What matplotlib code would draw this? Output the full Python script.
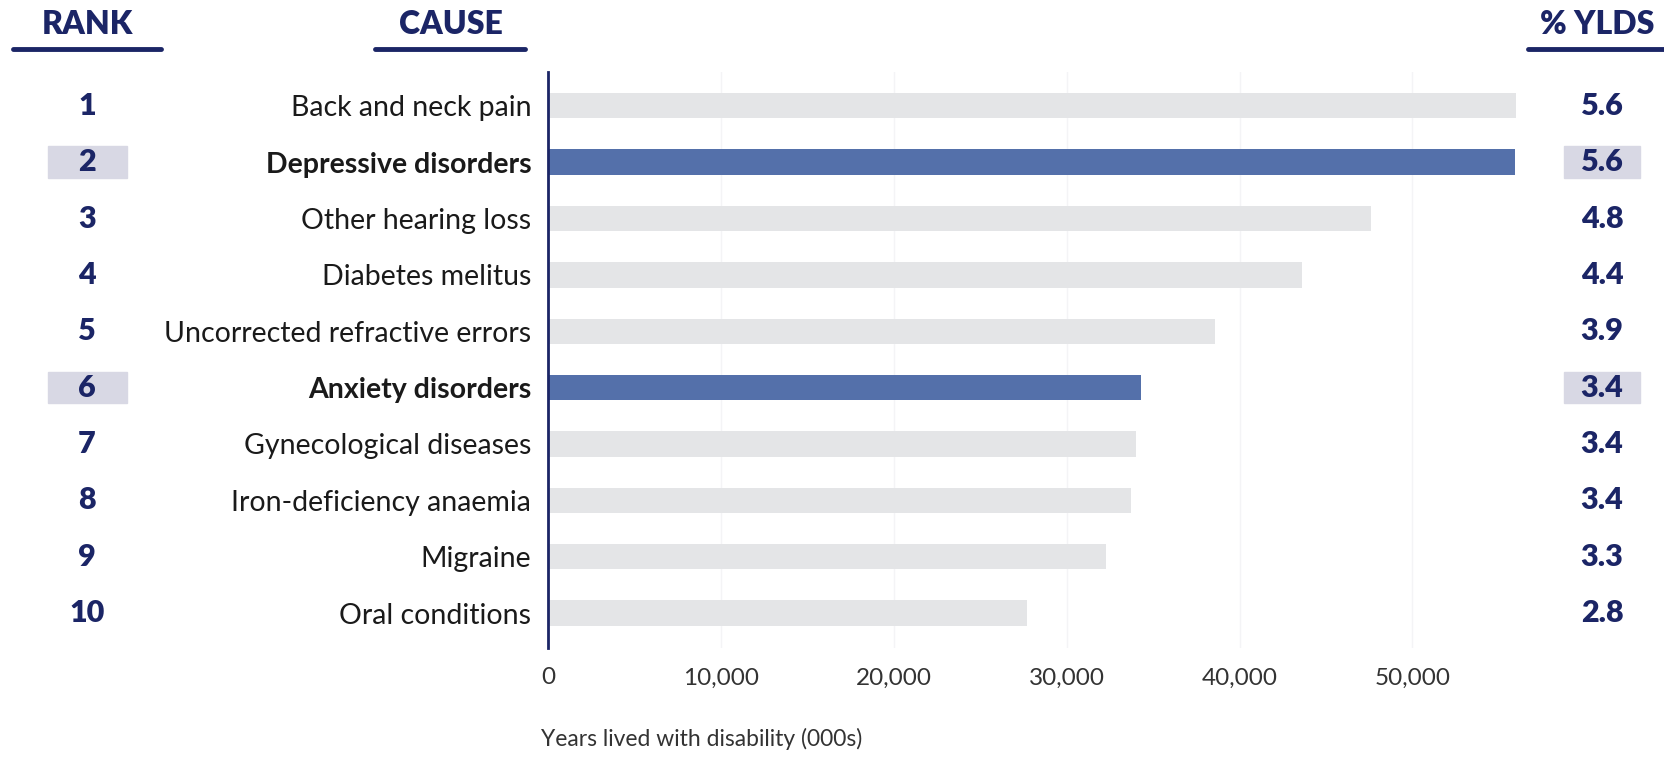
import matplotlib.pyplot as plt
import matplotlib.transforms as mtransforms
from matplotlib.patches import Rectangle

plt.rcParams["font.family"] = ["Lato", "DejaVu Sans"]

causes = [
    "Back and neck pain",
    "Depressive disorders",
    "Other hearing loss",
    "Diabetes melitus",
    "Uncorrected refractive errors",
    "Anxiety disorders",
    "Gynecological diseases",
    "Iron-deficiency anaemia",
    "Migraine",
    "Oral conditions",
]
ranks = [1, 2, 3, 4, 5, 6, 7, 8, 9, 10]
ylds = [56000, 55900, 47600, 43600, 38600, 34300, 34000, 33700, 32300, 27700]
pct_ylds = ["5.6", "5.6", "4.8", "4.4", "3.9", "3.4", "3.4", "3.4", "3.3", "2.8"]
highlight = ["Depressive disorders", "Anxiety disorders"]
xticks = [0, 10000, 20000, 30000, 40000, 50000]

NAVY = "#1b2566"
BLUE = "#5470aa"
GREY = "#e4e5e7"
BOX = "#d8d8e4"

W, H = 1664, 757
fig = plt.figure(figsize=(W / 100, H / 100), dpi=100)
ax = fig.add_axes([548 / W, 1 - 648 / H, (1556 - 548) / W, (648 - 72) / H])

y = list(range(len(causes)))
colors = [BLUE if c in highlight else GREY for c in causes]
ax.barh(y, ylds, height=0.45, color=colors, zorder=2)

ax.set_xlim(0, 58300)
ax.set_ylim(len(causes) - 0.38, -0.6)
ax.set_yticks(y)
ax.set_yticklabels(causes)
for lbl, c in zip(ax.get_yticklabels(), causes):
    lbl.set_fontweight("bold" if c in highlight else "normal")
ax.tick_params(axis="y", length=0, pad=12, labelsize=20.5, labelcolor="#1a1a1a")
ax.set_xticks(xticks)
ax.set_xticklabels([f"{v:,}" for v in xticks])
ax.tick_params(axis="x", length=0, pad=14, labelsize=17.5, labelcolor="#333333")
ax.grid(axis="x", color="#f4f4f6", lw=1, zorder=0)
for s in ["top", "right", "bottom"]:
    ax.spines[s].set_visible(False)
ax.spines["left"].set_color(NAVY)
ax.spines["left"].set_linewidth(2)
ax.set_xlabel("Years lived with disability (000s)", fontsize=16.5, color="#333333")
ax.xaxis.set_label_coords(-7 / 1008, -80 / 576, transform=ax.transAxes)
ax.xaxis.label.set_horizontalalignment("left")

# side columns: x in figure pixels, y in data
tr = mtransforms.blended_transform_factory(fig.transFigure, ax.transData)
rank_x = 87 / W
pct_x = 1602 / W
for i, (r, p, c) in enumerate(zip(ranks, pct_ylds, causes)):
    if c in highlight:
        fig.patches.append(Rectangle((48 / W, i - 0.28), 79 / W, 0.56, transform=tr,
                                     color=BOX, zorder=0))
        fig.patches.append(Rectangle((1564 / W, i - 0.28), 76 / W, 0.56, transform=tr,
                                     color=BOX, zorder=0))
    fig.text(rank_x, i, str(r), transform=tr, ha="center", va="center",
             fontsize=22, fontweight="heavy", color=NAVY)
    fig.text(pct_x, i, p, transform=tr, ha="center", va="center",
             fontsize=22, fontweight="heavy", color=NAVY)

# headers with underlines
headers = [("RANK", 87, 13, 161), ("CAUSE", 451, 375, 525), ("% YLDS", 1597, 1528, 1664)]
for txt, cx, x0, x1 in headers:
    fig.text(cx / W, 1 - 25 / H, txt, ha="center", va="center",
             fontsize=23, fontweight="heavy", color=NAVY)
    fig.add_artist(plt.Line2D([x0 / W, x1 / W], [1 - 49 / H, 1 - 49 / H],
                              color=NAVY, lw=3.5, solid_capstyle="round"))

fig.savefig("out.png", dpi=100, facecolor="white")
